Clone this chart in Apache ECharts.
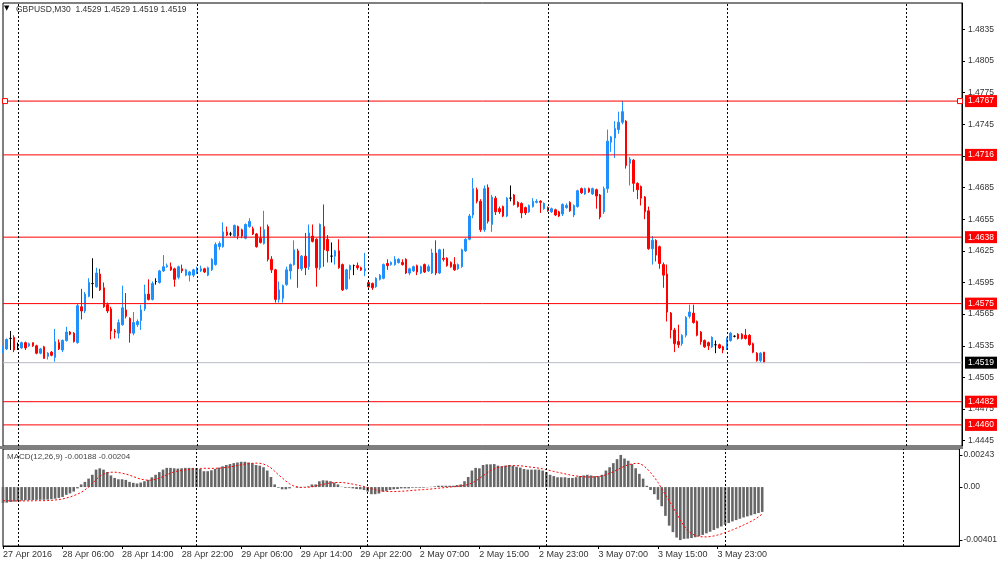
<!DOCTYPE html>
<html><head><meta charset="utf-8">
<script src="https://cdn.jsdelivr.net/npm/echarts@6/dist/echarts.min.js"></script>
<style>html,body{margin:0;padding:0;background:#fff;}#c{width:1000px;height:565px;}</style>
</head><body><div id="c"></div>
<script>
const symbolName = 'GBPUSD,M30';
// [open, high, low, close] per 30-minute bar, 27 Apr 22:00 -> 4 May 05:00
const ohlc = [
[1.4530,1.4535,1.4528,1.4533],[1.4532,1.4542,1.4531,1.4541],[1.4542,1.4549,1.4531,1.4542],[1.4543,1.4545,1.4529,1.4531],
[1.4535,1.4538,1.4531,1.4535],[1.4533,1.4539,1.4532,1.4538],[1.4538,1.4539,1.4531,1.4533],[1.4535,1.4538,1.4534,1.4537],
[1.4538,1.4538,1.4534,1.4535],[1.4535,1.4536,1.4527,1.4528],[1.4528,1.4533,1.4527,1.4532],[1.4534,1.4535,1.4523,1.4523],
[1.4525,1.4529,1.4522,1.4528],[1.4529,1.4530,1.4525,1.4526],[1.4524,1.4551,1.4520,1.4539],[1.4538,1.4541,1.4531,1.4532],
[1.4531,1.4541,1.4529,1.4540],[1.4540,1.4553,1.4539,1.4548],[1.4548,1.4549,1.4545,1.4546],[1.4547,1.4548,1.4538,1.4539],
[1.4538,1.4575,1.4537,1.4573],[1.4572,1.4589,1.4560,1.4568],[1.4568,1.4586,1.4566,1.4584],[1.4582,1.4599,1.4581,1.4595],
[1.4594,1.4618,1.4580,1.4594],[1.4591,1.4609,1.4590,1.4604],[1.4603,1.4608,1.4587,1.4588],[1.4590,1.4595,1.4571,1.4572],
[1.4574,1.4576,1.4566,1.4568],[1.4570,1.4572,1.4541,1.4549],[1.4549,1.4551,1.4542,1.4548],[1.4547,1.4560,1.4542,1.4557],
[1.4555,1.4592,1.4554,1.4571],[1.4569,1.4585,1.4561,1.4563],[1.4561,1.4562,1.4538,1.4547],[1.4547,1.4567,1.4545,1.4557],
[1.4555,1.4560,1.4553,1.4558],[1.4559,1.4574,1.4550,1.4569],[1.4570,1.4593,1.4568,1.4584],[1.4584,1.4598,1.4578,1.4579],
[1.4579,1.4596,1.4578,1.4594],[1.4596,1.4599,1.4593,1.4596],[1.4595,1.4607,1.4594,1.4606],[1.4606,1.4621,1.4605,1.4610],
[1.4610,1.4613,1.4609,1.4611],[1.4610,1.4614,1.4606,1.4607],[1.4608,1.4609,1.4591,1.4598],[1.4600,1.4611,1.4598,1.4610],
[1.4608,1.4612,1.4604,1.4606],[1.4602,1.4608,1.4601,1.4607],[1.4602,1.4606,1.4596,1.4605],[1.4602,1.4608,1.4600,1.4607],
[1.4604,1.4610,1.4603,1.4608],[1.4606,1.4611,1.4605,1.4608],[1.4608,1.4609,1.4604,1.4605],[1.4602,1.4610,1.4601,1.4609],
[1.4607,1.4618,1.4606,1.4617],[1.4612,1.4633,1.4611,1.4631],[1.4629,1.4634,1.4626,1.4632],[1.4629,1.4652,1.4628,1.4643],
[1.4643,1.4648,1.4639,1.4640],[1.4641,1.4643,1.4639,1.4641],[1.4639,1.4650,1.4638,1.4649],[1.4648,1.4649,1.4636,1.4639],
[1.4645,1.4646,1.4637,1.4639],[1.4637,1.4651,1.4636,1.4650],[1.4648,1.4656,1.4647,1.4653],[1.4646,1.4648,1.4640,1.4641],
[1.4641,1.4642,1.4628,1.4629],[1.4637,1.4648,1.4632,1.4633],[1.4632,1.4663,1.4631,1.4645],[1.4648,1.4650,1.4615,1.4617],
[1.4617,1.4620,1.4604,1.4607],[1.4607,1.4608,1.4576,1.4579],[1.4579,1.4596,1.4576,1.4588],[1.4580,1.4593,1.4576,1.4592],
[1.4593,1.4610,1.4592,1.4607],[1.4606,1.4613,1.4598,1.4612],[1.4612,1.4635,1.4611,1.4626],[1.4625,1.4627,1.4590,1.4608],
[1.4608,1.4621,1.4606,1.4620],[1.4620,1.4642,1.4602,1.4609],[1.4610,1.4650,1.4607,1.4642],[1.4639,1.4650,1.4633,1.4634],
[1.4636,1.4637,1.4591,1.4609],[1.4609,1.4651,1.4607,1.4650],[1.4648,1.4669,1.4610,1.4626],[1.4636,1.4640,1.4614,1.4625],
[1.4620,1.4633,1.4614,1.4620],[1.4620,1.4626,1.4612,1.4625],[1.4625,1.4636,1.4608,1.4609],[1.4612,1.4613,1.4587,1.4588],
[1.4589,1.4608,1.4588,1.4607],[1.4607,1.4612,1.4598,1.4611],[1.4611,1.4612,1.4602,1.4611],[1.4611,1.4614,1.4607,1.4609],
[1.4609,1.4610,1.4606,1.4607],[1.4606,1.4623,1.4601,1.4608],[1.4595,1.4596,1.4590,1.4591],[1.4594,1.4595,1.4588,1.4590],
[1.4591,1.4600,1.4590,1.4599],[1.4598,1.4603,1.4597,1.4602],[1.4599,1.4613,1.4598,1.4612],[1.4613,1.4617,1.4607,1.4611],
[1.4612,1.4615,1.4611,1.4614],[1.4612,1.4620,1.4611,1.4617],[1.4614,1.4618,1.4613,1.4617],[1.4614,1.4617,1.4611,1.4612],
[1.4617,1.4618,1.4603,1.4604],[1.4604,1.4609,1.4602,1.4608],[1.4606,1.4611,1.4605,1.4610],[1.4611,1.4612,1.4602,1.4605],
[1.4604,1.4611,1.4603,1.4610],[1.4612,1.4613,1.4604,1.4605],[1.4606,1.4612,1.4605,1.4610],[1.4604,1.4627,1.4603,1.4623],
[1.4623,1.4635,1.4602,1.4604],[1.4604,1.4627,1.4603,1.4626],[1.4618,1.4627,1.4615,1.4617],[1.4618,1.4619,1.4610,1.4611],
[1.4614,1.4615,1.4609,1.4610],[1.4612,1.4619,1.4606,1.4607],[1.4608,1.4613,1.4607,1.4612],[1.4610,1.4627,1.4609,1.4626],
[1.4625,1.4637,1.4624,1.4636],[1.4636,1.4660,1.4635,1.4658],[1.4659,1.4694,1.4656,1.4684],[1.4683,1.4685,1.4670,1.4672],
[1.4672,1.4674,1.4643,1.4645],[1.4645,1.4687,1.4643,1.4684],[1.4685,1.4688,1.4651,1.4653],[1.4650,1.4678,1.4643,1.4676],
[1.4675,1.4677,1.4659,1.4662],[1.4665,1.4667,1.4660,1.4662],[1.4667,1.4668,1.4657,1.4658],[1.4658,1.4676,1.4657,1.4675],
[1.4675,1.4687,1.4672,1.4675],[1.4678,1.4679,1.4668,1.4669],[1.4671,1.4672,1.4666,1.4667],[1.4670,1.4671,1.4656,1.4661],
[1.4666,1.4667,1.4659,1.4661],[1.4662,1.4669,1.4661,1.4668],[1.4667,1.4675,1.4666,1.4672],[1.4671,1.4674,1.4670,1.4672],
[1.4672,1.4673,1.4661,1.4671],[1.4665,1.4671,1.4664,1.4670],[1.4666,1.4667,1.4662,1.4663],[1.4662,1.4666,1.4661,1.4665],
[1.4664,1.4665,1.4658,1.4659],[1.4662,1.4663,1.4657,1.4658],[1.4660,1.4670,1.4658,1.4669],[1.4666,1.4670,1.4665,1.4668],
[1.4671,1.4672,1.4662,1.4663],[1.4659,1.4669,1.4657,1.4668],[1.4667,1.4683,1.4666,1.4682],[1.4684,1.4685,1.4679,1.4680],
[1.4679,1.4685,1.4678,1.4684],[1.4684,1.4685,1.4680,1.4681],[1.4679,1.4685,1.4678,1.4684],[1.4683,1.4684,1.4665,1.4677],
[1.4678,1.4679,1.4655,1.4657],[1.4662,1.4686,1.4660,1.4684],[1.4684,1.4740,1.4680,1.4729],[1.4728,1.4734,1.4719,1.4733],
[1.4732,1.4748,1.4713,1.4741],[1.4740,1.4757,1.4736,1.4747],[1.4747,1.4767,1.4745,1.4757],[1.4748,1.4749,1.4703,1.4706],
[1.4708,1.4714,1.4687,1.4712],[1.4711,1.4712,1.4681,1.4689],[1.4689,1.4690,1.4674,1.4683],[1.4686,1.4687,1.4668,1.4675],
[1.4676,1.4677,1.4655,1.4662],[1.4663,1.4667,1.4626,1.4627],[1.4627,1.4639,1.4612,1.4635],[1.4635,1.4636,1.4615,1.4621],
[1.4629,1.4630,1.4608,1.4613],[1.4612,1.4614,1.4590,1.4602],[1.4603,1.4612,1.4558,1.4567],[1.4566,1.4567,1.4542,1.4550],
[1.4550,1.4552,1.4529,1.4537],[1.4539,1.4555,1.4533,1.4536],[1.4537,1.4546,1.4535,1.4545],[1.4545,1.4563,1.4543,1.4562],
[1.4563,1.4574,1.4561,1.4567],[1.4566,1.4574,1.4556,1.4557],[1.4558,1.4559,1.4544,1.4545],[1.4548,1.4549,1.4536,1.4539],
[1.4540,1.4541,1.4533,1.4534],[1.4538,1.4539,1.4531,1.4535],[1.4534,1.4544,1.4533,1.4543],[1.4536,1.4540,1.4528,1.4536],
[1.4536,1.4537,1.4532,1.4533],[1.4534,1.4535,1.4528,1.4531],[1.4533,1.4543,1.4531,1.4542],[1.4540,1.4548,1.4539,1.4547],
[1.4544,1.4545,1.4543,1.4544],[1.4546,1.4547,1.4541,1.4542],[1.4546,1.4547,1.4541,1.4542],[1.4545,1.4551,1.4541,1.4542],
[1.4545,1.4546,1.4535,1.4536],[1.4537,1.4538,1.4528,1.4529],[1.4528,1.4529,1.4520,1.4521],[1.4521,1.4529,1.4519,1.4528],
[1.4529,1.4529,1.4519,1.4519]
];
const macdMain = [
-0.00120,-0.00118,-0.00113,-0.00110,-0.00108,-0.00103,-0.00100,-0.00099,-0.00098,-0.00097,
-0.00096,-0.00096,-0.00095,-0.00092,-0.00088,-0.00082,-0.00075,-0.00059,-0.00048,-0.00034,
-0.00010,0.00020,0.00039,0.00064,0.00093,0.00132,0.00142,0.00132,0.00113,0.00088,
0.00069,0.00059,0.00059,0.00054,0.00039,0.00032,0.00027,0.00034,0.00044,0.00054,
0.00074,0.00093,0.00113,0.00132,0.00145,0.00145,0.00142,0.00140,0.00142,0.00145,
0.00145,0.00145,0.00142,0.00137,0.00120,0.00120,0.00127,0.00137,0.00147,0.00157,
0.00167,0.00174,0.00181,0.00186,0.00191,0.00191,0.00186,0.00181,0.00167,0.00162,
0.00150,0.00125,0.00076,0.00020,-0.00005,-0.00017,-0.00017,-0.00010,0.00000,-0.00005,
-0.00005,0.00002,0.00005,0.00020,0.00020,0.00044,0.00051,0.00049,0.00044,0.00034,
0.00020,0.00002,-0.00005,-0.00005,-0.00010,-0.00015,-0.00017,-0.00022,-0.00034,-0.00054,
-0.00054,-0.00049,-0.00034,-0.00029,-0.00022,-0.00017,-0.00015,-0.00010,-0.00010,-0.00010,
-0.00005,-0.00005,-0.00005,-0.00005,-0.00002,0.00002,0.00005,0.00010,0.00010,0.00010,
0.00010,0.00010,0.00015,0.00020,0.00044,0.00076,0.00125,0.00145,0.00142,0.00167,
0.00172,0.00172,0.00174,0.00162,0.00157,0.00162,0.00167,0.00162,0.00154,0.00147,
0.00137,0.00132,0.00132,0.00132,0.00132,0.00125,0.00113,0.00093,0.00083,0.00074,
0.00074,0.00074,0.00069,0.00069,0.00074,0.00083,0.00088,0.00093,0.00088,0.00083,
0.00083,0.00093,0.00125,0.00150,0.00181,0.00211,0.00243,0.00216,0.00199,0.00174,
0.00142,0.00100,0.00064,0.00010,-0.00022,-0.00054,-0.00096,-0.00145,-0.00218,-0.00292,
-0.00341,-0.00382,-0.00401,-0.00392,-0.00390,-0.00386,-0.00380,-0.00372,-0.00362,-0.00350,
-0.00338,-0.00325,-0.00312,-0.00298,-0.00285,-0.00272,-0.00260,-0.00250,-0.00240,-0.00230,
-0.00222,-0.00214,-0.00205,-0.00196,-0.00188
];
const macdSignal = [
-0.00103,-0.00104,-0.00104,-0.00105,-0.00105,-0.00105,-0.00105,-0.00104,-0.00104,-0.00103,
-0.00103,-0.00103,-0.00102,-0.00101,-0.00098,-0.00095,-0.00090,-0.00083,-0.00075,-0.00065,
-0.00054,-0.00040,-0.00022,0.00000,0.00027,0.00055,0.00083,0.00098,0.00108,0.00112,
0.00113,0.00110,0.00105,0.00098,0.00090,0.00080,0.00069,0.00060,0.00055,0.00051,
0.00053,0.00059,0.00068,0.00080,0.00093,0.00105,0.00115,0.00122,0.00125,0.00130,
0.00133,0.00137,0.00139,0.00141,0.00142,0.00142,0.00141,0.00142,0.00143,0.00145,
0.00149,0.00153,0.00157,0.00163,0.00168,0.00174,0.00177,0.00180,0.00181,0.00180,
0.00174,0.00162,0.00145,0.00120,0.00093,0.00070,0.00045,0.00025,0.00010,0.00002,
-0.00002,-0.00003,-0.00002,0.00002,0.00008,0.00014,0.00020,0.00027,0.00031,0.00034,
0.00035,0.00034,0.00032,0.00027,0.00022,0.00016,0.00010,0.00004,-0.00005,-0.00012,
-0.00020,-0.00029,-0.00031,-0.00033,-0.00034,-0.00034,-0.00033,-0.00032,-0.00030,-0.00028,
-0.00025,-0.00023,-0.00021,-0.00019,-0.00017,-0.00015,-0.00012,-0.00009,-0.00006,-0.00003,
0.00000,0.00002,0.00005,0.00008,0.00012,0.00020,0.00030,0.00045,0.00065,0.00085,
0.00105,0.00125,0.00138,0.00148,0.00153,0.00157,0.00160,0.00162,0.00162,0.00161,
0.00158,0.00154,0.00150,0.00147,0.00143,0.00138,0.00132,0.00125,0.00118,0.00112,
0.00106,0.00100,0.00094,0.00088,0.00084,0.00080,0.00078,0.00076,0.00076,0.00077,
0.00080,0.00084,0.00093,0.00104,0.00116,0.00130,0.00145,0.00158,0.00168,0.00175,
0.00180,0.00178,0.00165,0.00140,0.00110,0.00075,0.00035,-0.00010,-0.00060,-0.00105,
-0.00150,-0.00200,-0.00250,-0.00295,-0.00330,-0.00352,-0.00366,-0.00374,-0.00377,-0.00377,
-0.00375,-0.00370,-0.00363,-0.00355,-0.00345,-0.00335,-0.00324,-0.00312,-0.00300,-0.00287,
-0.00274,-0.00260,-0.00244,-0.00225,-0.00204
];
const xTickLabels = ['27 Apr 2016','28 Apr 06:00','28 Apr 14:00','28 Apr 22:00','29 Apr 06:00','29 Apr 14:00',
  '29 Apr 22:00','2 May 07:00','2 May 15:00','2 May 23:00','3 May 07:00','3 May 15:00','3 May 23:00'];
const tickEvery = 16;
const totalSlots = 258;
const priceTicks = [1.4445,1.4475,1.4505,1.4535,1.4565,1.4595,1.4625,1.4655,1.4685,1.4715,1.4745,1.4775,1.4805,1.4835];
const macdTicks = [0.00243, 0, -0.00401];
const levelLines = [1.4767, 1.4716, 1.4638, 1.4575, 1.4482, 1.4460];
const bidPrice = 1.4519;
const daySeparators = [4, 52, 98, 146, 194, 242];

const FONT = 'Liberation Sans';
const categories = Array.from({length: totalSlots}, (_, i) => String(i));
const emptyData = categories.map(() => null);
const candleData = ohlc.map(r => {
  const item = {value: [r[0], r[3], r[2], r[1]]};
  if (r[0] === r[3]) item.itemStyle = {color:'#000', color0:'#000', borderColor:'#000', borderColor0:'#000'};
  return item;
});
const last = ohlc[ohlc.length - 1];
const headerText = symbolName + '  ' + last.map(v => v.toFixed(4)).join(' ');
const macdText = 'MACD(12,26,9) ' + macdMain[macdMain.length-1].toFixed(5) + ' ' + macdSignal[macdSignal.length-1].toFixed(5);
const tickShown = (idx) => idx % tickEvery === 0 && idx / tickEvery < xTickLabels.length;

function priceLine(v, lineColor, bg, withSquares) {
  return {type:'line', xAxisIndex:0, yAxisIndex:0, silent:true, clip:false, z:4,
    data:[{value:[0, v], symbolOffset:[2,0]}, {value:[totalSlots - 1, v], symbolOffset:[-2,0]}],
    symbol: withSquares ? 'rect' : 'none', showSymbol: !!withSquares, showAllSymbol:true, symbolSize:5,
    itemStyle:{color:'#fff', borderColor:lineColor, borderWidth:1},
    lineStyle:{color:lineColor, width:1, type:'solid'},
    endLabel:{show:true, formatter:() => v.toFixed(4), color:'#fff', backgroundColor:bg,
      padding:[2,3,1,3], fontSize:8.5, fontFamily:FONT, distance:3}};
}
function helper(gridIdx, markLine, z) {
  return {type:'line', xAxisIndex:gridIdx, yAxisIndex:gridIdx, data:emptyData, symbol:'none', silent:true,
    lineStyle:{opacity:0}, z:z, markLine:Object.assign({silent:true, animation:false, symbol:['none','none']}, markLine)};
}
const sepMark = {lineStyle:{color:'#000', width:1, type:[2,2]}, label:{show:false},
  data: daySeparators.map(i => ({xAxis:i}))};

const chart = echarts.init(document.getElementById('c'), null, {renderer:'canvas'});
chart.setOption({
  animation:false,
  backgroundColor:'#fff',
  grid:[
    {left:3, right:38, top:3, height:443, show:true, borderColor:'#000', borderWidth:1, backgroundColor:'transparent'},
    {left:3, right:38, top:449, height:97, show:true, borderColor:'#000', borderWidth:1, backgroundColor:'transparent'}
  ],
  xAxis:[
    {type:'category', gridIndex:0, data:categories, boundaryGap:false,
     axisLine:{show:false, onZero:false}, axisTick:{show:false}, axisLabel:{show:false}, splitLine:{show:false}},
    {type:'category', gridIndex:1, data:categories, boundaryGap:false, position:'bottom',
     axisLine:{show:true, onZero:false, lineStyle:{color:'#000'}},
     axisTick:{show:true, interval:(i)=>tickShown(i), length:3, lineStyle:{color:'#000'}},
     axisLabel:{show:true, interval:(i)=>tickShown(i), formatter:(v,i)=>xTickLabels[i/tickEvery] || '',
       align:'left', margin:4, color:'#333', fontSize:9, fontFamily:FONT},
     splitLine:{show:false}}
  ],
  yAxis:[
    {type:'value', gridIndex:0, position:'right', min:1.4440, max:1.4860, scale:true,
     axisLine:{show:true, lineStyle:{color:'#000'}}, splitLine:{show:false},
     axisTick:{show:true, length:3, customValues:priceTicks, lineStyle:{color:'#000'}},
     axisLabel:{show:true, customValues:priceTicks, formatter:v=>v.toFixed(4), margin:6, color:'#333', fontSize:8.5, fontFamily:FONT}},
    {type:'value', gridIndex:1, position:'right', min:-0.00446, max:0.00288, scale:true,
     axisLine:{show:true, lineStyle:{color:'#000'}}, splitLine:{show:false},
     axisTick:{show:true, length:3, customValues:macdTicks, lineStyle:{color:'#000'}},
     axisLabel:{show:true, customValues:macdTicks, formatter:v=>v===0?'0.00':v.toFixed(5), margin:4, color:'#333', fontSize:8.5, fontFamily:FONT}}
  ],
  series:[
    helper(0, sepMark, 1),
    {type:'candlestick', xAxisIndex:0, yAxisIndex:0, data:candleData, barWidth:2, z:2,
     itemStyle:{color:'#1e90ff', color0:'#ff0000', borderColor:'#1e90ff', borderColor0:'#ff0000', borderWidth:1}},
    ...levelLines.map((v, i) => priceLine(v, '#ff0000', '#ff0000', i === 0)),
    priceLine(bidPrice, '#b8bcc4', '#000', false),
    helper(1, sepMark, 1),
    {type:'bar', xAxisIndex:1, yAxisIndex:1, data:macdMain, barWidth:2.6, itemStyle:{color:'#666'}, z:2},
    {type:'line', xAxisIndex:1, yAxisIndex:1, data:macdSignal, symbol:'none', smooth:false, z:3,
     lineStyle:{color:'#ff0000', width:1, type:[2,2]}}
  ],
  graphic:[
    {type:'rect', shape:{x:0, y:446, width:963, height:3}, style:{fill:'#7f7f7f'}, z:10},
    {type:'text', left:4, top:5, style:{text:'\u25BC', fontSize:7, fill:'#000', fontFamily:'DejaVu Sans'}, z:10},
    {type:'text', left:16, top:5, style:{text:headerText, fontSize:8.5, fill:'#333', fontFamily:FONT}, z:10},
    {type:'text', left:7, top:453, style:{text:macdText, fontSize:8, fill:'#444', fontFamily:FONT}, z:10}
  ]
});
</script></body></html>
